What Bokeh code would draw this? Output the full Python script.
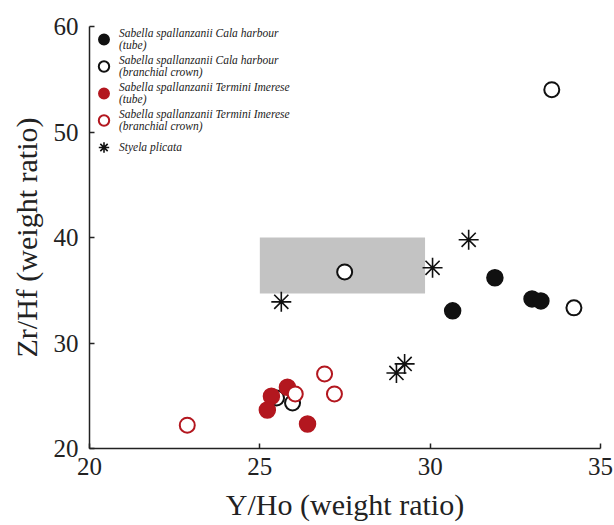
from bokeh.plotting import figure
from bokeh.models import Legend, LegendItem
from bokeh.embed import file_html
from bokeh.resources import INLINE

# Data (Y/Ho, Zr/Hf weight ratios)
cala_tube_x = [30.66, 31.90, 32.99, 33.25]
cala_tube_y = [33.05, 36.18, 34.18, 33.99]

cala_crown_x = [33.57, 34.22, 27.49, 25.49, 25.96]
cala_crown_y = [54.01, 33.33, 36.74, 24.79, 24.32]

term_tube_x = [25.34, 25.81, 25.22, 26.40]
term_tube_y = [24.95, 25.80, 23.65, 22.32]

term_crown_x = [22.87, 26.04, 26.90, 27.19]
term_crown_y = [22.21, 25.17, 27.07, 25.17]

styela_x = [25.63, 30.07, 31.13, 29.01, 29.25]
styela_y = [33.90, 37.13, 39.78, 27.16, 28.02]

# Shaded reference field
field_left = [25.0]
field_right = [29.85]
field_bottom = [34.7]
field_top = [40.0]

labels = [
    "Sabella spallanzanii Cala harbour\n(tube)",
    "Sabella spallanzanii Cala harbour\n(branchial crown)",
    "Sabella spallanzanii Termini Imerese\n(tube)",
    "Sabella spallanzanii Termini Imerese\n(branchial crown)",
    "Styela plicata",
]

RED = "#b3171f"
BLK = "#111111"
FONT = "Liberation Serif"

p = figure(width=614, height=525, x_range=(20, 35), y_range=(20, 60),
           output_backend="svg", toolbar_location=None,
           min_border_left=89, min_border_right=14, min_border_top=26,
           min_border_bottom=77)
p.outline_line_color = None
p.xgrid.visible = False
p.ygrid.visible = False
p.background_fill_color = "white"
p.border_fill_color = "white"

p.quad(left=field_left, right=field_right, bottom=field_bottom, top=field_top,
       fill_color="#c3c3c3", line_color=None)

r1 = p.scatter(cala_tube_x, cala_tube_y, size=16, marker="circle",
               fill_color=BLK, line_color=BLK, line_width=1.5)
r2 = p.scatter(cala_crown_x, cala_crown_y, size=15, marker="circle",
               fill_color="white", line_color=BLK, line_width=2)
r3 = p.scatter(term_tube_x, term_tube_y, size=16, marker="circle",
               fill_color=RED, line_color=RED, line_width=1.5)
r4 = p.scatter(term_crown_x, term_crown_y, size=15, marker="circle",
               fill_color="white", line_color=RED, line_width=2)
r5 = p.scatter(styela_x, styela_y, size=20, marker="asterisk",
               line_color=BLK, line_width=1.6)

legend = Legend(items=[LegendItem(label=l, renderers=[r]) for l, r in
                       zip(labels, [r1, r2, r3, r4, r5])],
                location="top_left", orientation="vertical")
legend.label_text_font = FONT
legend.label_text_font_style = "italic"
legend.label_text_font_size = "11.5px"
legend.label_text_line_height = 1.1
legend.label_text_color = "#222222"
legend.border_line_color = None
legend.background_fill_alpha = 0
legend.glyph_width = 29
legend.glyph_height = 26
legend.label_standoff = 1
legend.spacing = 1
legend.padding = 5
legend.margin = 0
p.add_layout(legend, "center")

for ax in (p.xaxis[0], p.yaxis[0]):
    ax.major_tick_in = 5
    ax.major_tick_out = 0
    ax.minor_tick_line_color = None
    ax.axis_line_color = "#222222"
    ax.axis_line_width = 1.5
    ax.major_tick_line_color = "#222222"
    ax.major_tick_line_width = 1.5
    ax.major_label_text_font = FONT
    ax.major_label_text_font_size = "25px"
    ax.major_label_text_color = "#222222"
    ax.axis_label_text_font = FONT
    ax.axis_label_text_font_size = "30px"
    ax.axis_label_text_font_style = "normal"
    ax.axis_label_text_color = "#222222"

p.xaxis.ticker = [20, 25, 30, 35]
p.yaxis.ticker = [20, 30, 40, 50, 60]
p.xaxis.axis_label = "Y/Ho (weight ratio)"
p.yaxis.axis_label = "Zr/Hf (weight ratio)"
p.xaxis.major_label_standoff = 9
p.yaxis.major_label_standoff = 11
p.xaxis.axis_label_standoff = 10
p.yaxis.axis_label_standoff = 8

open("out.html", "w").write(file_html(p, INLINE))
